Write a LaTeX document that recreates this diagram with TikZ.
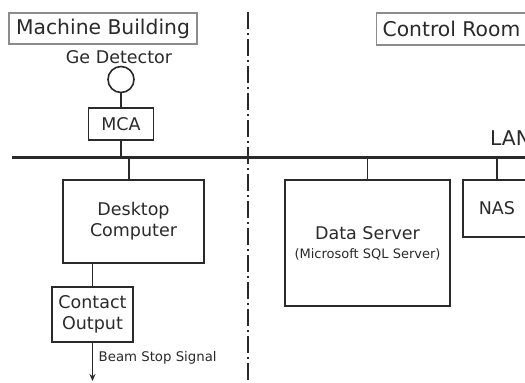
\documentclass[tikz,border=0pt]{standalone}
\usepackage{fontspec}
\setmainfont{DejaVu Sans}
\usetikzlibrary{arrows.meta}
\definecolor{ink}{HTML}{2A2A2A}
\definecolor{tagline}{HTML}{8C8C8C}
\tikzset{
  box/.style={draw=ink, line width=1.6pt, rectangle, inner sep=0pt, align=center, text=ink,
    font=\fontsize{17.5}{21}\selectfont},
  tagbox/.style={draw=tagline, line width=1.3pt, rectangle, inner sep=0pt, text=ink,
    font=\fontsize{20.3}{24}\selectfont},
  wire/.style={draw=ink, line width=1.8pt},
  lbl/.style={text=ink, inner sep=0pt},
}
\begin{document}
\begin{tikzpicture}[x=1pt,y=-1pt]
\useasboundingbox (0,0) rectangle (525,383);
\clip (0,0) rectangle (525,383);
\fill[white] (0,0) rectangle (525,383);

% region labels
\node[tagbox, minimum width=188pt, minimum height=31pt] (mb) at (103,28.5) {Machine Building};
\node[tagbox, anchor=west, minimum height=32pt, inner xsep=6pt] (cr) at (376,29) {Control Room};

% separator
\coordinate (septop) at (248,12);
\coordinate (sepbot) at (248,383);
\draw[draw=ink, line width=1.8pt, dash pattern=on 17pt off 4pt on 2pt off 4pt] (septop) -- (sepbot);

% detector
\node[draw=ink, line width=1.6pt, circle, minimum size=26pt, inner sep=0pt] (ge) at (121,79.5) {};
\node[lbl, font=\fontsize{17.5}{21}\selectfont] (gelabel) at (119,57) {Ge Detector};
\node[box, minimum width=65pt, minimum height=32pt] (mca) at (121,124) {MCA};

% LAN bus
\coordinate (busL) at (12,157);
\coordinate (busR) at (530,157);
\draw[draw=ink, line width=3pt] (busL) -- (busR);
\node[lbl, anchor=base west, font=\fontsize{20.3}{24}\selectfont] (lan) at (490,145) {LAN};

% machine building side
\node[box, minimum width=141pt, minimum height=83pt] (desk) at (133.5,221.5) {Desktop\\Computer};
\node[box, minimum width=81pt, minimum height=55pt] (contact) at (92.5,314.5) {Contact\\Output};
\coordinate (j1) at (121,157);
\coordinate (j2) at (129,157);
\coordinate (sigend) at (92.5,381);
\node[lbl, anchor=west, font=\fontsize{13.3}{16}\selectfont] (sig) at (98.5,358) {Beam Stop Signal};

\draw[wire] (ge) -- (mca);
\draw[wire] (mca) -- (j1);
\draw[wire] (j2) -- (j2 |- desk.north);
\draw[wire] (contact.north |- desk.south) -- (contact.north);
\draw[wire, -{Stealth[length=7pt,width=6pt]}] (contact.south) -- (sigend);

% control room side
\node[box, minimum width=165pt, minimum height=126pt] (ds) at (367.5,243)
  {Data Server\\[-2pt]{\fontsize{13}{16}\selectfont (Microsoft SQL Server)}};
\node[box, anchor=west, minimum height=57pt, inner xsep=16pt] (nas) at (462,208.5) {NAS};
\coordinate (j3) at (367.5,157);
\coordinate (j4) at (497,157);
\draw[wire] (j3) -- (ds);
\draw[wire] (j4) -- (j4 |- nas.north);
\end{tikzpicture}
\end{document}
